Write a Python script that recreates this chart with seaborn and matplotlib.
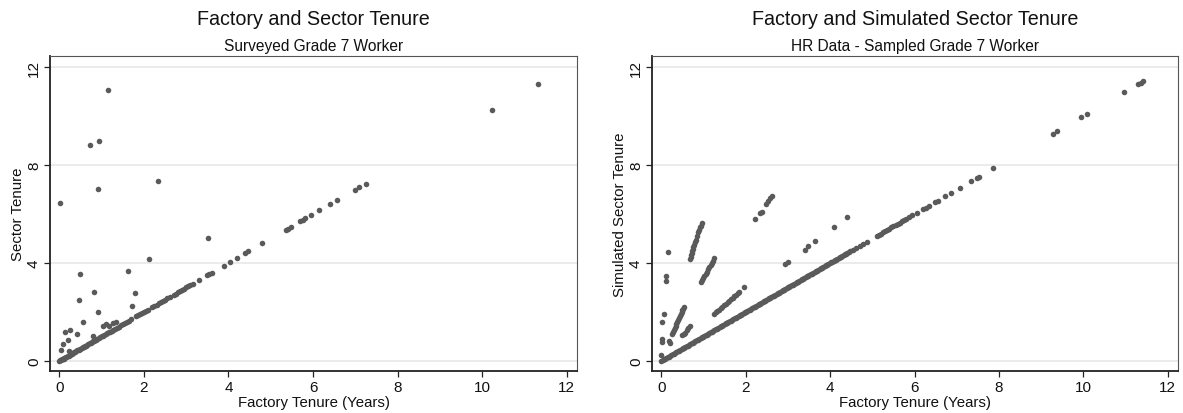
import matplotlib
matplotlib.use("Agg")
import matplotlib.pyplot as plt
import seaborn as sns
import pandas as pd

# Panel 1: surveyed workers whose sector tenure equals factory tenure
surv_same = [0.0, 0.02, 0.04, 0.06, 0.08, 0.1, 0.12, 0.15, 0.17, 0.2, 0.22, 0.25, 0.27, 0.3,
             0.33, 0.35, 0.38, 0.4, 0.43, 0.46, 0.48, 0.5, 0.53, 0.56, 0.58, 0.6, 0.63, 0.66,
             0.69, 0.72, 0.75, 0.78, 0.8, 0.83, 0.86, 0.9, 0.93, 0.96, 1.0, 1.03, 1.06, 1.1,
             1.13, 1.17, 1.2, 1.24, 1.28, 1.32, 1.36, 1.4, 1.45, 1.5, 1.55, 1.6, 1.65, 1.7,
             1.82, 1.86, 1.9, 1.95, 2.0, 2.05, 2.1, 2.2, 2.25, 2.3, 2.35, 2.4, 2.45, 2.5, 2.55,
             2.62, 2.7, 2.75, 2.8, 2.86, 2.9, 2.95, 3.0, 3.05, 3.1, 3.15, 3.3, 3.49, 3.55, 3.6,
             3.89, 4.04, 4.2, 4.39, 4.47, 4.8, 5.35, 5.4, 5.48, 5.7, 5.76, 5.82, 5.96, 6.15,
             6.39, 6.56, 6.98, 7.09, 7.24, 10.24, 11.31]
# Panel 1: surveyed workers with longer sector tenure
surv_factory = [0.02, 1.16, 0.73, 0.95, 0.92, 2.33, 3.51, 2.11, 1.63, 0.49, 0.82, 1.78, 0.47,
                1.73, 0.92, 0.56, 1.10, 1.26, 1.33, 1.04, 1.18, 0.14, 0.25, 0.42, 0.80, 0.09,
                0.21, 0.04, 0.24]
surv_sector = [6.46, 11.05, 8.8, 9.0, 7.03, 7.35, 5.02, 4.16, 3.66, 3.54, 2.83, 2.79, 2.50,
               2.26, 2.01, 1.61, 1.52, 1.55, 1.58, 1.41, 1.41, 1.17, 1.27, 1.12, 1.01, 0.71,
               0.86, 0.46, 0.42]

# Panel 2: HR sample, simulated sector tenure equal to factory tenure
hr_same = [0.0, 0.03, 0.06, 0.09, 0.12, 0.15, 0.18, 0.21, 0.24, 0.27, 0.3, 0.33, 0.36, 0.39,
           0.42, 0.45, 0.48, 0.51, 0.54, 0.57, 0.6, 0.63, 0.66, 0.69, 0.72, 0.75, 0.78, 0.81,
           0.84, 0.87, 0.9, 0.93, 0.96, 0.99, 1.02, 1.05, 1.08, 1.11, 1.14, 1.17, 1.2, 1.23,
           1.26, 1.29, 1.32, 1.35, 1.38, 1.41, 1.44, 1.47, 1.5, 1.53, 1.56, 1.59, 1.62, 1.65,
           1.68, 1.71, 1.74, 1.77, 1.8, 1.83, 1.86, 1.89, 1.92, 1.95, 1.98, 2.01, 2.04, 2.07,
           2.1, 2.13, 2.16, 2.19, 2.22, 2.25, 2.28, 2.31, 2.34, 2.37, 2.4, 2.43, 2.46, 2.49,
           2.52, 2.55, 2.58, 2.61, 2.64, 2.67, 2.7, 2.73, 2.76, 2.79, 2.82, 2.85, 2.88, 2.91,
           2.94, 2.97, 3.0, 3.03, 3.06, 3.09, 3.12, 3.15, 3.18, 3.21, 3.24, 3.27, 3.3, 3.33,
           3.36, 3.39, 3.42, 3.45, 3.48, 3.51, 3.54, 3.57, 3.6, 3.63, 3.66, 3.69, 3.72, 3.75,
           3.78, 3.81, 3.84, 3.87, 3.9, 3.93, 3.96, 3.99, 4.02, 4.05, 4.08, 4.11, 4.14, 4.17,
           4.2, 4.23, 4.26, 4.29, 4.32, 4.35, 4.38, 4.41, 4.44, 4.48, 4.55, 4.62, 4.7, 4.78,
           4.87, 5.1, 5.15, 5.2, 5.25, 5.3, 5.35, 5.4, 5.45, 5.5, 5.55, 5.6, 5.65, 5.7, 5.75,
           5.8, 5.86, 5.94, 6.06, 6.2, 6.26, 6.33, 6.49, 6.55, 6.73, 6.86, 7.08, 7.34, 7.48,
           7.53, 7.86, 9.28, 9.37, 9.94, 10.08, 10.97, 11.30, 11.36, 11.41]
# Panel 2: HR sample, simulated sector tenure above factory tenure
hr_factory = [0.69, 0.70, 0.71, 0.72, 0.73, 0.75, 0.76, 0.78, 0.80, 0.82, 0.85, 0.88, 0.90,
              0.92, 0.94, 0.96,
              0.93, 0.96, 0.99, 1.02, 1.05, 1.08, 1.11, 1.14, 1.17, 1.20, 1.23, 1.26,
              2.22, 2.34, 2.39, 2.48, 2.53, 2.58, 2.63,
              0.26, 0.28, 0.30, 0.32, 0.34, 0.36, 0.38, 0.40, 0.42, 0.44, 0.46, 0.48, 0.50,
              0.52, 0.54,
              0.50, 0.53, 0.56, 0.60, 0.64, 0.69,
              1.25, 1.29, 1.33, 1.37, 1.41, 1.45, 1.49, 1.53, 1.57, 1.61, 1.65, 1.69, 1.73,
              1.77, 1.81, 1.85, 1.97,
              0.17, 0.12, 0.12, 0.06, 0.02, 0.01, 0.01, 0.0, 0.18, 0.20,
              2.94, 3.0, 3.40, 3.48, 3.65, 4.09, 4.40]
hr_sector = [4.16, 4.25, 4.33, 4.40, 4.48, 4.58, 4.66, 4.75, 4.86, 4.95, 5.10, 5.25, 5.35,
             5.45, 5.53, 5.62,
             3.21, 3.30, 3.39, 3.48, 3.56, 3.65, 3.74, 3.83, 3.92, 4.01, 4.10, 4.19,
             5.80, 6.05, 6.10, 6.41, 6.52, 6.64, 6.75,
             1.10, 1.18, 1.26, 1.34, 1.42, 1.50, 1.58, 1.66, 1.74, 1.82, 1.90, 1.98, 2.06,
             2.12, 2.19,
             1.04, 1.10, 1.16, 1.26, 1.34, 1.42,
             1.92, 1.98, 2.04, 2.10, 2.16, 2.22, 2.28, 2.34, 2.40, 2.46, 2.52, 2.58, 2.64,
             2.70, 2.76, 2.82, 3.03,
             4.46, 3.46, 3.28, 1.92, 1.58, 0.90, 0.79, 0.26, 0.83, 0.73,
             3.96, 4.03, 4.54, 4.68, 4.90, 5.46, 5.86]

x_ticks = [0, 2, 4, 6, 8, 10, 12]
y_ticks = [0, 4, 8, 12]

surv = pd.DataFrame({"factory": surv_same + surv_factory,
                     "sector": surv_same + surv_sector})
hr = pd.DataFrame({"factory": hr_same + hr_factory,
                   "sector": hr_same + hr_sector})

sns.set_style("white")
plt.rcParams["font.family"] = ["Liberation Sans", "DejaVu Sans"]

fig = plt.figure(figsize=(11.83, 4.14), dpi=100)
ax1 = fig.add_axes([50 / 1183, 42 / 414, 527 / 1183, 315 / 414])
ax2 = fig.add_axes([652 / 1183, 42 / 414, 526 / 1183, 315 / 414])

panels = [
    (ax1, surv, "Factory and Sector Tenure", "Surveyed Grade 7 Worker", "Sector Tenure"),
    (ax2, hr, "Factory and Simulated Sector Tenure", "HR Data - Sampled Grade 7 Worker",
     "Simulated Sector Tenure"),
]

for ax, df, title, subtitle, ylabel in panels:
    sns.scatterplot(data=df, x="factory", y="sector", ax=ax, color="#5a5a5a",
                    s=16, linewidth=0, zorder=3)
    ax.set_xlim(-0.22, 12.24)
    ax.set_ylim(-0.41, 12.45)
    ax.set_xticks(x_ticks)
    ax.set_yticks(y_ticks)
    ax.set_yticklabels([str(t) for t in y_ticks], rotation=90, va="center")
    ax.yaxis.grid(True, color="#e8e8e8", linewidth=1.2, zorder=0)
    ax.xaxis.grid(False)
    ax.tick_params(axis="both", which="major", direction="out", length=4, width=0.9,
                   color="#222222", labelsize=11, labelcolor="#111111", pad=2.5,
                   bottom=True, left=True)
    for side in ["left", "bottom"]:
        ax.spines[side].set_color("#222222")
        ax.spines[side].set_linewidth(1.3)
    for side in ["top", "right"]:
        ax.spines[side].set_color("#555555")
        ax.spines[side].set_linewidth(0.8)
    ax.set_xlabel("Factory Tenure (Years)", fontsize=10.8, color="#111111", labelpad=1)
    ax.set_ylabel(ylabel, fontsize=10.8, color="#111111", labelpad=1.5)
    ax.text(0.5, 1 + 37 / 315, title, transform=ax.transAxes, ha="center", va="center",
            fontsize=14.2, color="#111111")
    ax.text(0.5, 1 + 10 / 315, subtitle, transform=ax.transAxes, ha="center", va="center",
            fontsize=11.2, color="#111111")

fig.savefig("out.png", dpi=100)
